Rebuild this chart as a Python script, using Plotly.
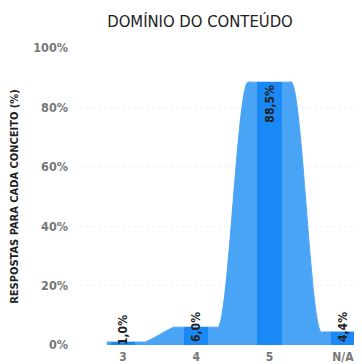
import plotly.graph_objects as go

categories = ["3", "4", "5", "N/A"]
values = [1.0, 6.0, 88.5, 4.4]
labels = ["1,0%", "6,0%", "88,5%", "4,4%"]
y_ticks = [0, 20, 40, 60, 80, 100]
y_tick_labels = ["0%", "20%", "40%", "60%", "80%", "100%"]

FONT = "DejaVu Sans Condensed, Roboto, sans-serif"
pos = list(range(len(categories)))

# smoothed step area: each value held around its category
ax, ay = [], []
for i, v in zip(pos, values):
    if i == 0:
        xs = [i - 0.22, i + 0.27, i + 0.3]
    elif i == len(pos) - 1:
        xs = [i - 0.3, i - 0.27, i + 0.2]
    else:
        xs = [i - 0.3, i - 0.27, i + 0.27, i + 0.3]
    ax += xs
    ay += [v] * len(xs)

big = [v > 20 for v in values]
label_font = dict(family=FONT, size=12, color="#222", weight="bold")

fig = go.Figure()
fig.add_trace(go.Scatter(
    x=ax, y=ay, mode="lines", fill="tozeroy",
    line=dict(shape="spline", smoothing=1.3, color="#4aa4f5", width=1),
    fillcolor="#4aa4f5", hoverinfo="skip", showlegend=False,
))
# bars, with labels at the top inside for tall bars
fig.add_trace(go.Bar(
    x=pos, y=values, width=0.33, yaxis="y2",
    marker=dict(color="#1a88f5", line=dict(width=0)),
    text=[t if b else "" for t, b in zip(labels, big)],
    textposition="inside", textangle=-90, insidetextanchor="end", constraintext="none",
    textfont=label_font, cliponaxis=False, showlegend=False, hoverinfo="skip",
))
# labels for short bars, anchored at the bar base
fig.add_trace(go.Bar(
    x=pos, y=values, width=0.33, yaxis="y2",
    marker=dict(color="rgba(0,0,0,0)", line=dict(width=0)),
    text=["" if b else t for t, b in zip(labels, big)],
    textposition="inside", textangle=-90, insidetextanchor="start", constraintext="none",
    textfont=label_font, cliponaxis=False, showlegend=False, hoverinfo="skip",
))

# page has an 8px body margin: figure coordinates are reference minus 8px
fig.update_layout(
    width=354, height=356,
    margin=dict(l=72, r=0, t=40, b=19),
    paper_bgcolor="white", plot_bgcolor="white",
    title=dict(text="DOMÍNIO DO CONTEÚDO", x=192/354, xref="container", xanchor="center",
               y=1 - 13/356, yref="container", yanchor="middle",
               font=dict(family=FONT, size=16.5, color="#222")),
    font=dict(family=FONT),
    barmode="overlay", bargap=0,
    yaxis2=dict(overlaying="y", range=[0, 100], visible=False, showgrid=False),
)
fig.update_xaxes(
    range=[-0.585, 3.26], tickvals=pos, ticktext=categories, automargin=False,
    showgrid=False, zeroline=False, showline=False, ticks="", ticklabelstandoff=3,
    tickfont=dict(family=FONT, size=12, color="#777", weight="bold"),
)
fig.layout.yaxis.update(
    range=[0, 100], tickvals=y_ticks, ticktext=y_tick_labels, automargin=False,
    showgrid=True, gridcolor="#eeeeee", griddash="dot", zeroline=False,
    ticks="", ticklabelstandoff=11,
    tickfont=dict(family=FONT, size=12.5, color="#777", weight="bold"),
    title=dict(text="\u00a0" * 6 + "RESPOSTAS PARA CADA CONCEITO (%)", standoff=16,
               font=dict(family=FONT, size=11, color="#222", weight="bold")),
)

fig.write_html("out.html")
